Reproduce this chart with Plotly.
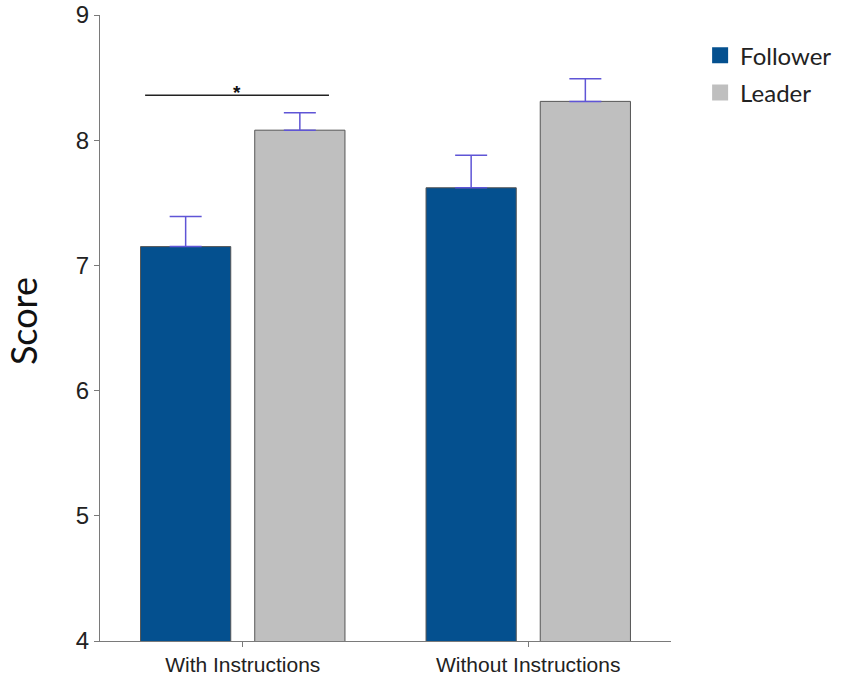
import plotly.graph_objects as go

categories = ["With Instructions", "Without Instructions"]
follower = [7.15, 7.62]
follower_err = [0.24, 0.26]
leader = [8.08, 8.31]
leader_err = [0.14, 0.18]
y_ticks = [4, 5, 6, 7, 8, 9]

# significance bracket for first group
sig_y = 8.36
sig_x0, sig_x1 = -0.342, 0.302

follower_color = "#04508f"
leader_color = "#bfbfbf"
err_color = "#5f55d6"

fig = go.Figure()
fig.add_trace(go.Bar(
    name="Follower", x=categories, y=follower, showlegend=False,
    marker=dict(color=follower_color, line=dict(color="#555555", width=1)),
    error_y=dict(type="data", array=follower_err, arrayminus=[0, 0], symmetric=False,
                 color=err_color, thickness=1.5, width=16),
))
fig.add_trace(go.Bar(
    name="Leader", x=categories, y=leader, showlegend=False,
    marker=dict(color=leader_color, line=dict(color="#555555", width=1)),
    error_y=dict(type="data", array=leader_err, arrayminus=[0, 0], symmetric=False,
                 color=err_color, thickness=1.5, width=16),
))
# legend entries with larger square swatches
for nm, col in [("Follower", follower_color), ("Leader", leader_color)]:
    fig.add_trace(go.Scatter(
        name=nm, x=[None], y=[None], mode="markers", legendgroup=nm,
        marker=dict(symbol="square", size=16, color=col, line=dict(width=0)),
    ))

fig.add_shape(type="line", xref="x", yref="y", x0=sig_x0, x1=sig_x1, y0=sig_y, y1=sig_y,
              line=dict(color="#222222", width=1.5))
fig.add_annotation(x=(sig_x0 + sig_x1) / 2, y=sig_y, text="<b>*</b>", showarrow=False,
                   yanchor="bottom", yshift=-10, font=dict(size=19, color="#111111", family="Liberation Sans"))

# y-axis title
fig.add_annotation(xref="paper", yref="paper", x=0, y=0.511, xanchor="center", yanchor="middle",
                   xshift=-77, text="Score", textangle=-90, showarrow=False,
                   font=dict(family="Lato", size=36, color="#111111"))

fig.update_layout(
    width=850, height=679,
    paper_bgcolor="white", plot_bgcolor="white",
    margin=dict(l=100, r=179, t=15, b=38),
    barmode="group", bargap=0.2, bargroupgap=0.21,
    showlegend=True,
    legend=dict(x=1.051, y=0.971, xanchor="left", yanchor="top",
                font=dict(family="Lato", size=24, color="#222222"),
                tracegroupgap=3, itemwidth=30),
    xaxis=dict(showline=True, linecolor="#7a7a7a", linewidth=1.3, ticks="outside",
               ticklen=5, tickcolor="#7a7a7a", automargin=False,
               tickfont=dict(family="Liberation Sans Narrow, Liberation Sans", size=21, color="#222222"),
               showgrid=False, zeroline=False),
    yaxis=dict(range=[4, 9], tickvals=y_ticks, showline=True, linecolor="#7a7a7a",
               linewidth=1.3, ticks="outside", ticklen=5, tickcolor="#7a7a7a",
               automargin=False, ticklabeloverflow="allow",
               tickfont=dict(family="Liberation Sans", size=24, color="#222222"),
               showgrid=False, zeroline=False),
)

fig.write_html("out.html", config={"displayModeBar": False},
               post_script="document.body.style.margin='0';")
